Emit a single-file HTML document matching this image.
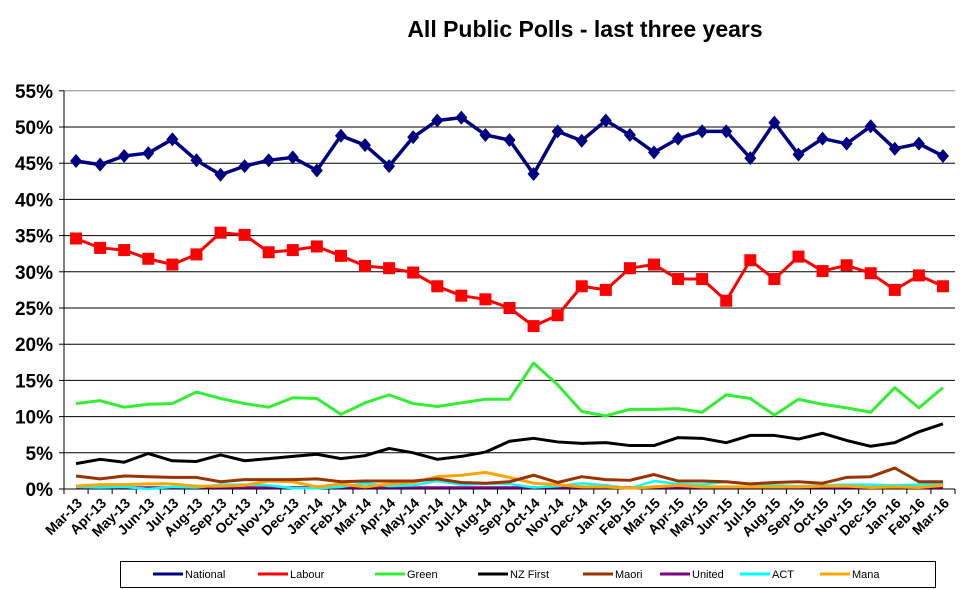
<!DOCTYPE html><html><head><style>body{margin:0;background:#fff}svg{display:block;font-family:"Liberation Sans",Arial,sans-serif;font-weight:bold}</style></head><body>
<svg id="s" width="967" height="590" xmlns="http://www.w3.org/2000/svg">
<text x="585" y="37" font-size="23" text-anchor="middle">All Public Polls - last three years</text>
</svg>
<script>
const s=document.getElementById('s');const NS='http://www.w3.org/2000/svg';
function el(t,a,txt){const e=document.createElementNS(NS,t);for(const k in a)e.setAttribute(k,a[k]);if(txt!=null)e.textContent=txt;s.appendChild(e);return e;}
const x0=64,x1=955,y0=489,yk=7.24,n=37,cw=(x1-x0)/n;
const X=i=>x0+cw*(i+0.5),Y=v=>y0-v*yk;
for(let p=0;p<=55;p+=5){el('line',{x1:x0,x2:x1,y1:Y(p),y2:Y(p),stroke:p==55?'#888':'#000','stroke-width':1});el('line',{x1:x0-5,x2:x0,y1:Y(p),y2:Y(p),stroke:'#000'});el('text',{x:x0-11,y:Y(p)+7,'font-size':19,'text-anchor':'end'},p+'%');}
el('line',{x1:x0,x2:x0,y1:Y(55),y2:y0+5,stroke:'#000'});
const m=['Jan','Feb','Mar','Apr','May','Jun','Jul','Aug','Sep','Oct','Nov','Dec'];
for(let i=0;i<=n;i++)el('line',{x1:x0+cw*i,x2:x0+cw*i,y1:y0,y2:y0+5,stroke:'#000'});
for(let i=0;i<n;i++){const mi=(2+i)%12,yr=13+Math.floor((2+i)/12);el('text',{x:X(i)+7,y:y0+15,'font-size':14,'text-anchor':'end',transform:`rotate(-45 ${X(i)+7} ${y0+15})`},m[mi]+'-'+yr);}
const D={
nat:[45.3,44.8,46.0,46.4,48.3,45.4,43.4,44.6,45.4,45.8,44.0,48.8,47.5,44.6,48.6,50.9,51.3,48.9,48.2,43.5,49.4,48.1,50.9,48.9,46.5,48.4,49.4,49.4,45.7,50.6,46.2,48.4,47.7,50.1,47.0,47.7,46.0],
lab:[34.6,33.3,33.0,31.8,31.0,32.4,35.4,35.1,32.7,33.0,33.5,32.2,30.8,30.5,29.9,28.0,26.7,26.2,25.0,22.5,24.0,28.0,27.5,30.5,31.0,29.0,29.0,26.0,31.6,29.0,32.1,30.1,30.9,29.8,27.5,29.5,28.0],
grn:[11.8,12.2,11.3,11.7,11.8,13.4,12.5,11.8,11.3,12.6,12.5,10.3,11.9,13.0,11.8,11.4,11.9,12.4,12.4,17.4,14.4,10.7,10.1,11.0,11.0,11.1,10.6,13.0,12.5,10.2,12.4,11.7,11.2,10.6,14.0,11.2,14.0],
nzf:[3.5,4.1,3.7,4.9,3.9,3.8,4.7,3.9,4.2,4.5,4.8,4.2,4.6,5.6,5.0,4.1,4.5,5.1,6.6,7.0,6.5,6.3,6.4,6.0,6.0,7.1,7.0,6.4,7.4,7.4,6.9,7.7,6.7,5.9,6.4,7.9,9.0],
mao:[1.8,1.4,1.8,1.7,1.6,1.6,1.0,1.3,1.3,1.3,1.4,1.0,1.1,1.1,1.1,1.4,0.9,0.8,1.0,1.9,0.9,1.7,1.3,1.2,2.0,1.1,1.1,1.0,0.7,0.9,1.0,0.8,1.6,1.7,2.9,1.0,1.0],
act:[0.3,0.2,0.3,0,0.3,0.2,0.6,0.6,0.5,0.1,0.1,0.3,0.8,0.4,0.5,1.1,0.6,0.7,0.7,0.2,0.4,0.8,0.5,0.1,1.1,0.7,0.6,1.0,0.6,0.5,0.4,0.5,0.6,0.6,0.5,0.6,0.8],
mana:[0.4,0.6,0.6,0.7,0.7,0.4,0.4,0.5,1.1,1.0,0.3,0.7,0.3,0.7,0.9,1.7,1.9,2.3,1.6,0.8,0.6,0.3,0.3,0.1,0.3,0.5,0.3,0.3,0.3,0.3,0.3,0.4,0.4,0.2,0.3,0.2,0.5]};
D.uni=D.nat.map(()=>0.2);
const line=(d,c,w)=>el('polyline',{points:d.map((v,i)=>X(i)+','+Y(v)).join(' '),fill:'none',stroke:c,'stroke-width':w,'stroke-linejoin':'round'});
line(D.uni,'#800080',2.5);line(D.act,'#00ffff',2.5);line(D.mana,'#ffa500',3);line(D.mao,'#993300',3);line(D.nzf,'#000',3);line(D.grn,'#33ee33',3);
line(D.lab,'#ff0000',3);D.lab.forEach((v,i)=>el('rect',{x:X(i)-6,y:Y(v)-6,width:12,height:12,fill:'#ff0000'}));
line(D.nat,'#000080',3.5);D.nat.forEach((v,i)=>{const x=X(i),y=Y(v);el('polygon',{points:`${x},${y-7} ${x+6},${y} ${x},${y+7} ${x-6},${y}`,fill:'#000080'});});
el('rect',{x:120.5,y:561.5,width:815,height:26,fill:'#fff',stroke:'#000'});
const L=[['National','#000080',153],['Labour','#ff0000',258],['Green','#33ee33',375],['NZ First','#000',478],['Maori','#993300',583],['United','#800080',660],['ACT','#00ffff',740],['Mana','#ffa500',820]];
L.forEach(([t,c,x])=>{el('line',{x1:x,x2:x+30,y1:574,y2:574,stroke:c,'stroke-width':3});el('text',{x:x+32,y:578,'font-size':11,'font-weight':'normal'},t);});
</script></body></html>
